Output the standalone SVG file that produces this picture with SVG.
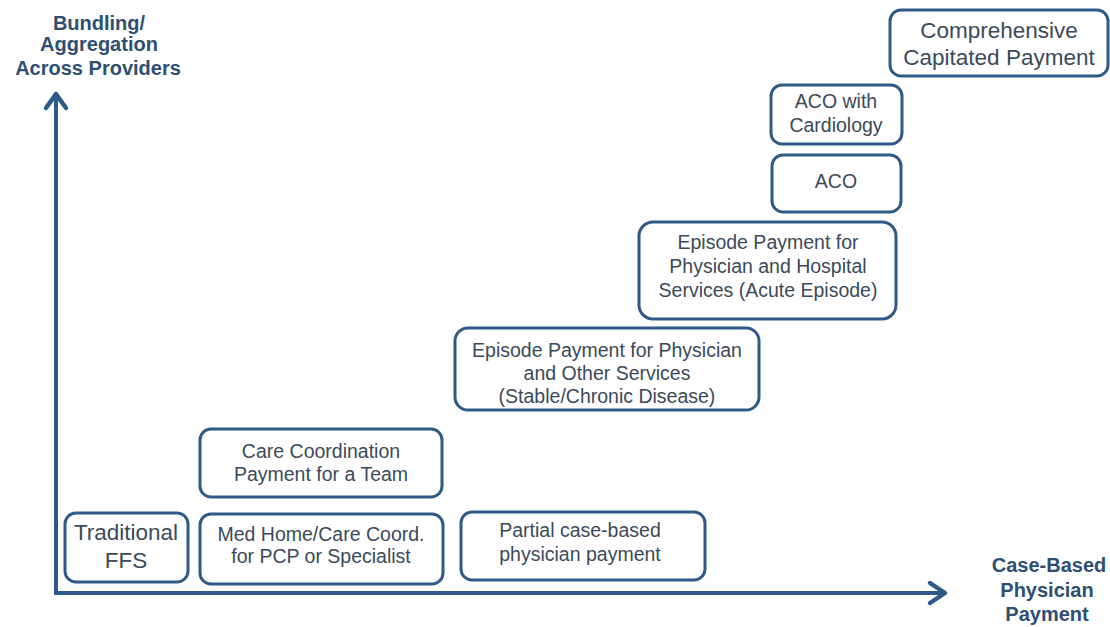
<svg xmlns="http://www.w3.org/2000/svg" width="1110" height="627" viewBox="0 0 1110 627">
<defs>
<style>
.box{fill:#fff;stroke:#2f5a87;stroke-width:3}
.t{font-family:"Liberation Sans",Arial,sans-serif;font-size:19.5px;fill:#3b4a5a;text-anchor:middle}
.tl{font-family:"Liberation Sans",Arial,sans-serif;font-size:22.5px;fill:#3b4a5a;text-anchor:middle}
.ax{font-family:"Liberation Sans",Arial,sans-serif;font-size:20px;font-weight:bold;fill:#2f4f72;text-anchor:middle}
.axis{stroke:#2d5a8a;stroke-width:4;fill:none}
.head{stroke:#2d5a8a;stroke-width:4.5;fill:none;stroke-linecap:round;stroke-linejoin:round}
</style>
</defs>
<rect width="1110" height="627" fill="#fff"/>
<g id="connectors">
<path class="axis" d="M56 594 V94"/>
<path class="axis" d="M54 593 H944"/>
<path class="head" d="M46 108 L56 94 L66 108"/>
<path class="head" d="M930 583 L945 593 L930 603"/>
</g>
<g id="label-y">
<text class="ax" x="99" y="30">Bundling/</text>
<text class="ax" x="99" y="51">Aggregation</text>
<text class="ax" x="98" y="75">Across  Providers</text>
</g>
<g id="label-x">
<text class="ax" x="1049" y="572">Case-Based</text>
<text class="ax" x="1047" y="597">Physician</text>
<text class="ax" x="1047" y="621">Payment</text>
</g>
<g id="ffs">
<rect class="box" x="65" y="513" width="123" height="69" rx="11"/>
<text class="tl" x="126" y="540">Traditional</text>
<text class="tl" x="126" y="568">FFS</text>
</g>
<g id="medhome">
<rect class="box" x="200" y="514" width="243" height="70" rx="11"/>
<text class="t" x="321" y="541">Med Home/Care Coord.</text>
<text class="t" x="321" y="563">for PCP or Specialist</text>
</g>
<g id="partial">
<rect class="box" x="461" y="512" width="244" height="68" rx="11"/>
<text class="t" x="580" y="537">Partial case-based</text>
<text class="t" x="580" y="561">physician payment</text>
</g>
<g id="carecoord">
<rect class="box" x="200" y="429" width="242" height="68" rx="11"/>
<text class="t" x="321" y="458">Care Coordination</text>
<text class="t" x="321" y="481">Payment for a Team</text>
</g>
<g id="episode-chronic">
<rect class="box" x="455" y="328" width="304" height="82" rx="13"/>
<text class="t" x="607" y="357">Episode Payment for Physician</text>
<text class="t" x="607" y="380">and Other Services</text>
<text class="t" x="607" y="403">(Stable/Chronic Disease)</text>
</g>
<g id="episode-acute">
<rect class="box" x="639" y="222" width="257" height="97" rx="14"/>
<text class="t" x="768" y="249">Episode Payment for</text>
<text class="t" x="768" y="273">Physician and Hospital</text>
<text class="t" x="768" y="297">Services (Acute Episode)</text>
</g>
<g id="aco">
<rect class="box" x="772" y="155" width="129" height="57" rx="11"/>
<text class="t" x="836" y="188">ACO</text>
</g>
<g id="aco-cardio">
<rect class="box" x="771" y="85" width="131" height="59" rx="11"/>
<text class="t" x="836" y="108">ACO with</text>
<text class="t" x="836" y="132">Cardiology</text>
</g>
<g id="capitated">
<rect class="box" x="890" y="10" width="218" height="66" rx="11"/>
<text class="tl" x="999" y="38">Comprehensive</text>
<text class="tl" x="999" y="65">Capitated Payment</text>
</g>
</svg>
